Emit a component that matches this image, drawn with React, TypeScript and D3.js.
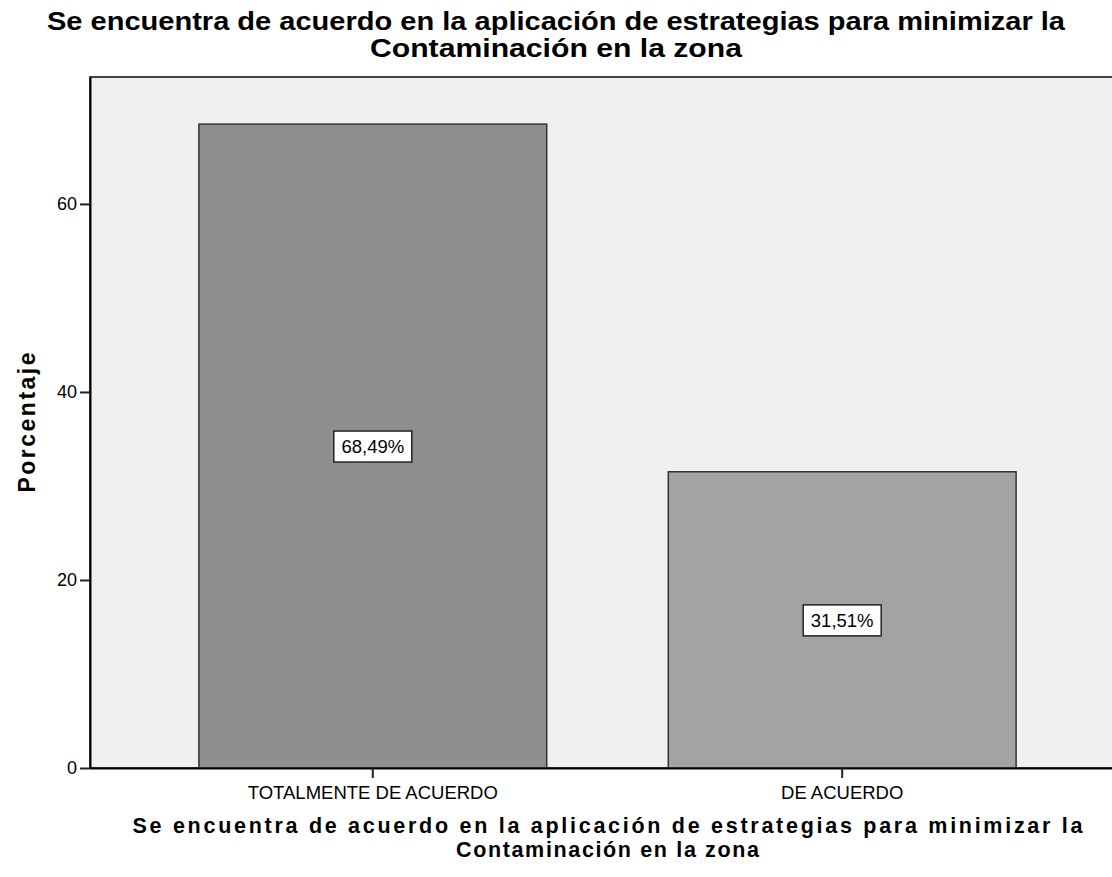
import React, { useEffect, useRef } from 'react';
import * as d3 from 'd3';

const categories = ['TOTALMENTE DE ACUERDO', 'DE ACUERDO'];
const percentages = [68.49, 31.51];
const valueLabels = ['68,49%', '31,51%'];
const yTicks = [0, 20, 40, 60];
const titleLines = [
  'Se encuentra de acuerdo en la aplicación de estrategias para minimizar la',
  'Contaminación en la zona',
];
const barColors = ['#8f8f8f', '#a3a3a3'];

const App: React.FC = () => {
  const svgRef = useRef<SVGSVGElement | null>(null);

  useEffect(() => {
    if (!svgRef.current) return;
    const width = 1112;
    const height = 877;
    const plot = { left: 90, right: 1125, top: 77, bottom: 768 };

    const svg = d3.select(svgRef.current).html('');
    const font = '"Liberation Sans", Arial, sans-serif';

    const x = d3.scaleBand<string>()
      .domain(categories)
      .range([plot.left, plot.right])
      .paddingInner(0.259)
      .paddingOuter(0.232);

    const y = d3.scaleLinear()
      .domain([0, 73.5])
      .range([plot.bottom, plot.top]);

    // plot background + frame
    svg.append('rect')
      .attr('x', plot.left)
      .attr('y', plot.top)
      .attr('width', plot.right - plot.left)
      .attr('height', plot.bottom - plot.top)
      .attr('fill', '#f0f0f0')
      .attr('stroke', '#444')
      .attr('stroke-width', 2);

    // bars
    svg.selectAll('.bar')
      .data(percentages)
      .enter()
      .append('rect')
      .attr('x', (_, i) => x(categories[i])!)
      .attr('y', d => y(d))
      .attr('width', x.bandwidth())
      .attr('height', d => y(0) - y(d))
      .attr('fill', (_, i) => barColors[i])
      .attr('stroke', '#333')
      .attr('stroke-width', 1.5);

    // value labels
    percentages.forEach((v, i) => {
      const cx = x(categories[i])! + x.bandwidth() / 2;
      const cy = y(v / 2);
      svg.append('rect')
        .attr('x', cx - 39)
        .attr('y', cy - 15)
        .attr('width', 78)
        .attr('height', 31)
        .attr('fill', '#fff')
        .attr('stroke', '#222')
        .attr('stroke-width', 1.5);
      svg.append('text')
        .attr('x', cx)
        .attr('y', cy + 7)
        .attr('text-anchor', 'middle')
        .attr('font-family', font)
        .attr('font-size', 18.5)
        .attr('fill', '#000')
        .text(valueLabels[i]);
    });

    // y axis
    const yAxis = d3.axisLeft(y).tickValues(yTicks).tickSize(10).tickSizeOuter(0).tickPadding(3);
    const yg = svg.append('g')
      .attr('transform', `translate(${plot.left},0)`)
      .call(yAxis);
    yg.select('.domain').attr('stroke', '#000').attr('stroke-width', 2);
    yg.selectAll('line').attr('stroke', '#222').attr('stroke-width', 2);
    yg.selectAll('text').attr('font-family', font).attr('font-size', 18).attr('fill', '#000');

    // x axis
    const xAxis = d3.axisBottom(x).tickSize(10).tickSizeOuter(0).tickPadding(8);
    const xg = svg.append('g')
      .attr('transform', `translate(0,${plot.bottom})`)
      .call(xAxis);
    xg.select('.domain').attr('stroke', '#000').attr('stroke-width', 2);
    xg.selectAll('line').attr('stroke', '#222').attr('stroke-width', 2);
    xg.selectAll('text').attr('font-family', font).attr('font-size', 18.5).attr('fill', '#000');

    // top title (condensed)
    const topWidths = [1018, 372];
    titleLines.forEach((t, i) => {
      svg.append('text')
        .attr('x', width / 2)
        .attr('y', 30 + i * 27)
        .attr('text-anchor', 'middle')
        .attr('font-family', '"Liberation Sans Narrow", "Liberation Sans", Arial, sans-serif')
        .attr('font-weight', 'bold')
        .attr('font-size', 26)
        .attr('textLength', topWidths[i])
        .attr('lengthAdjust', 'spacingAndGlyphs')
        .text(t);
    });

    // bottom axis title
    const bottomWidths = [950, 303];
    const bx = (plot.left + plot.right) / 2;
    titleLines.forEach((t, i) => {
      svg.append('text')
        .attr('x', bx)
        .attr('y', 833 + i * 24)
        .attr('text-anchor', 'middle')
        .attr('font-family', font)
        .attr('font-weight', 'bold')
        .attr('font-size', 21.5)
        .attr('textLength', bottomWidths[i])
        .attr('lengthAdjust', 'spacing')
        .text(t);
    });

    // y axis title
    svg.append('text')
      .attr('transform', `translate(35,${(plot.top + plot.bottom) / 2}) rotate(-90)`)
      .attr('text-anchor', 'middle')
      .attr('font-family', font)
      .attr('font-weight', 'bold')
      .attr('font-size', 23)
      .attr('textLength', 140)
      .attr('lengthAdjust', 'spacing')
      .text('Porcentaje');

    svg.attr('width', width).attr('height', height);
  }, []);

  return (
    <svg
      ref={svgRef}
      width={1112}
      height={877}
      style={{ position: 'absolute', left: 0, top: 0, background: '#fff' }}
    />
  );
};

export default App;
